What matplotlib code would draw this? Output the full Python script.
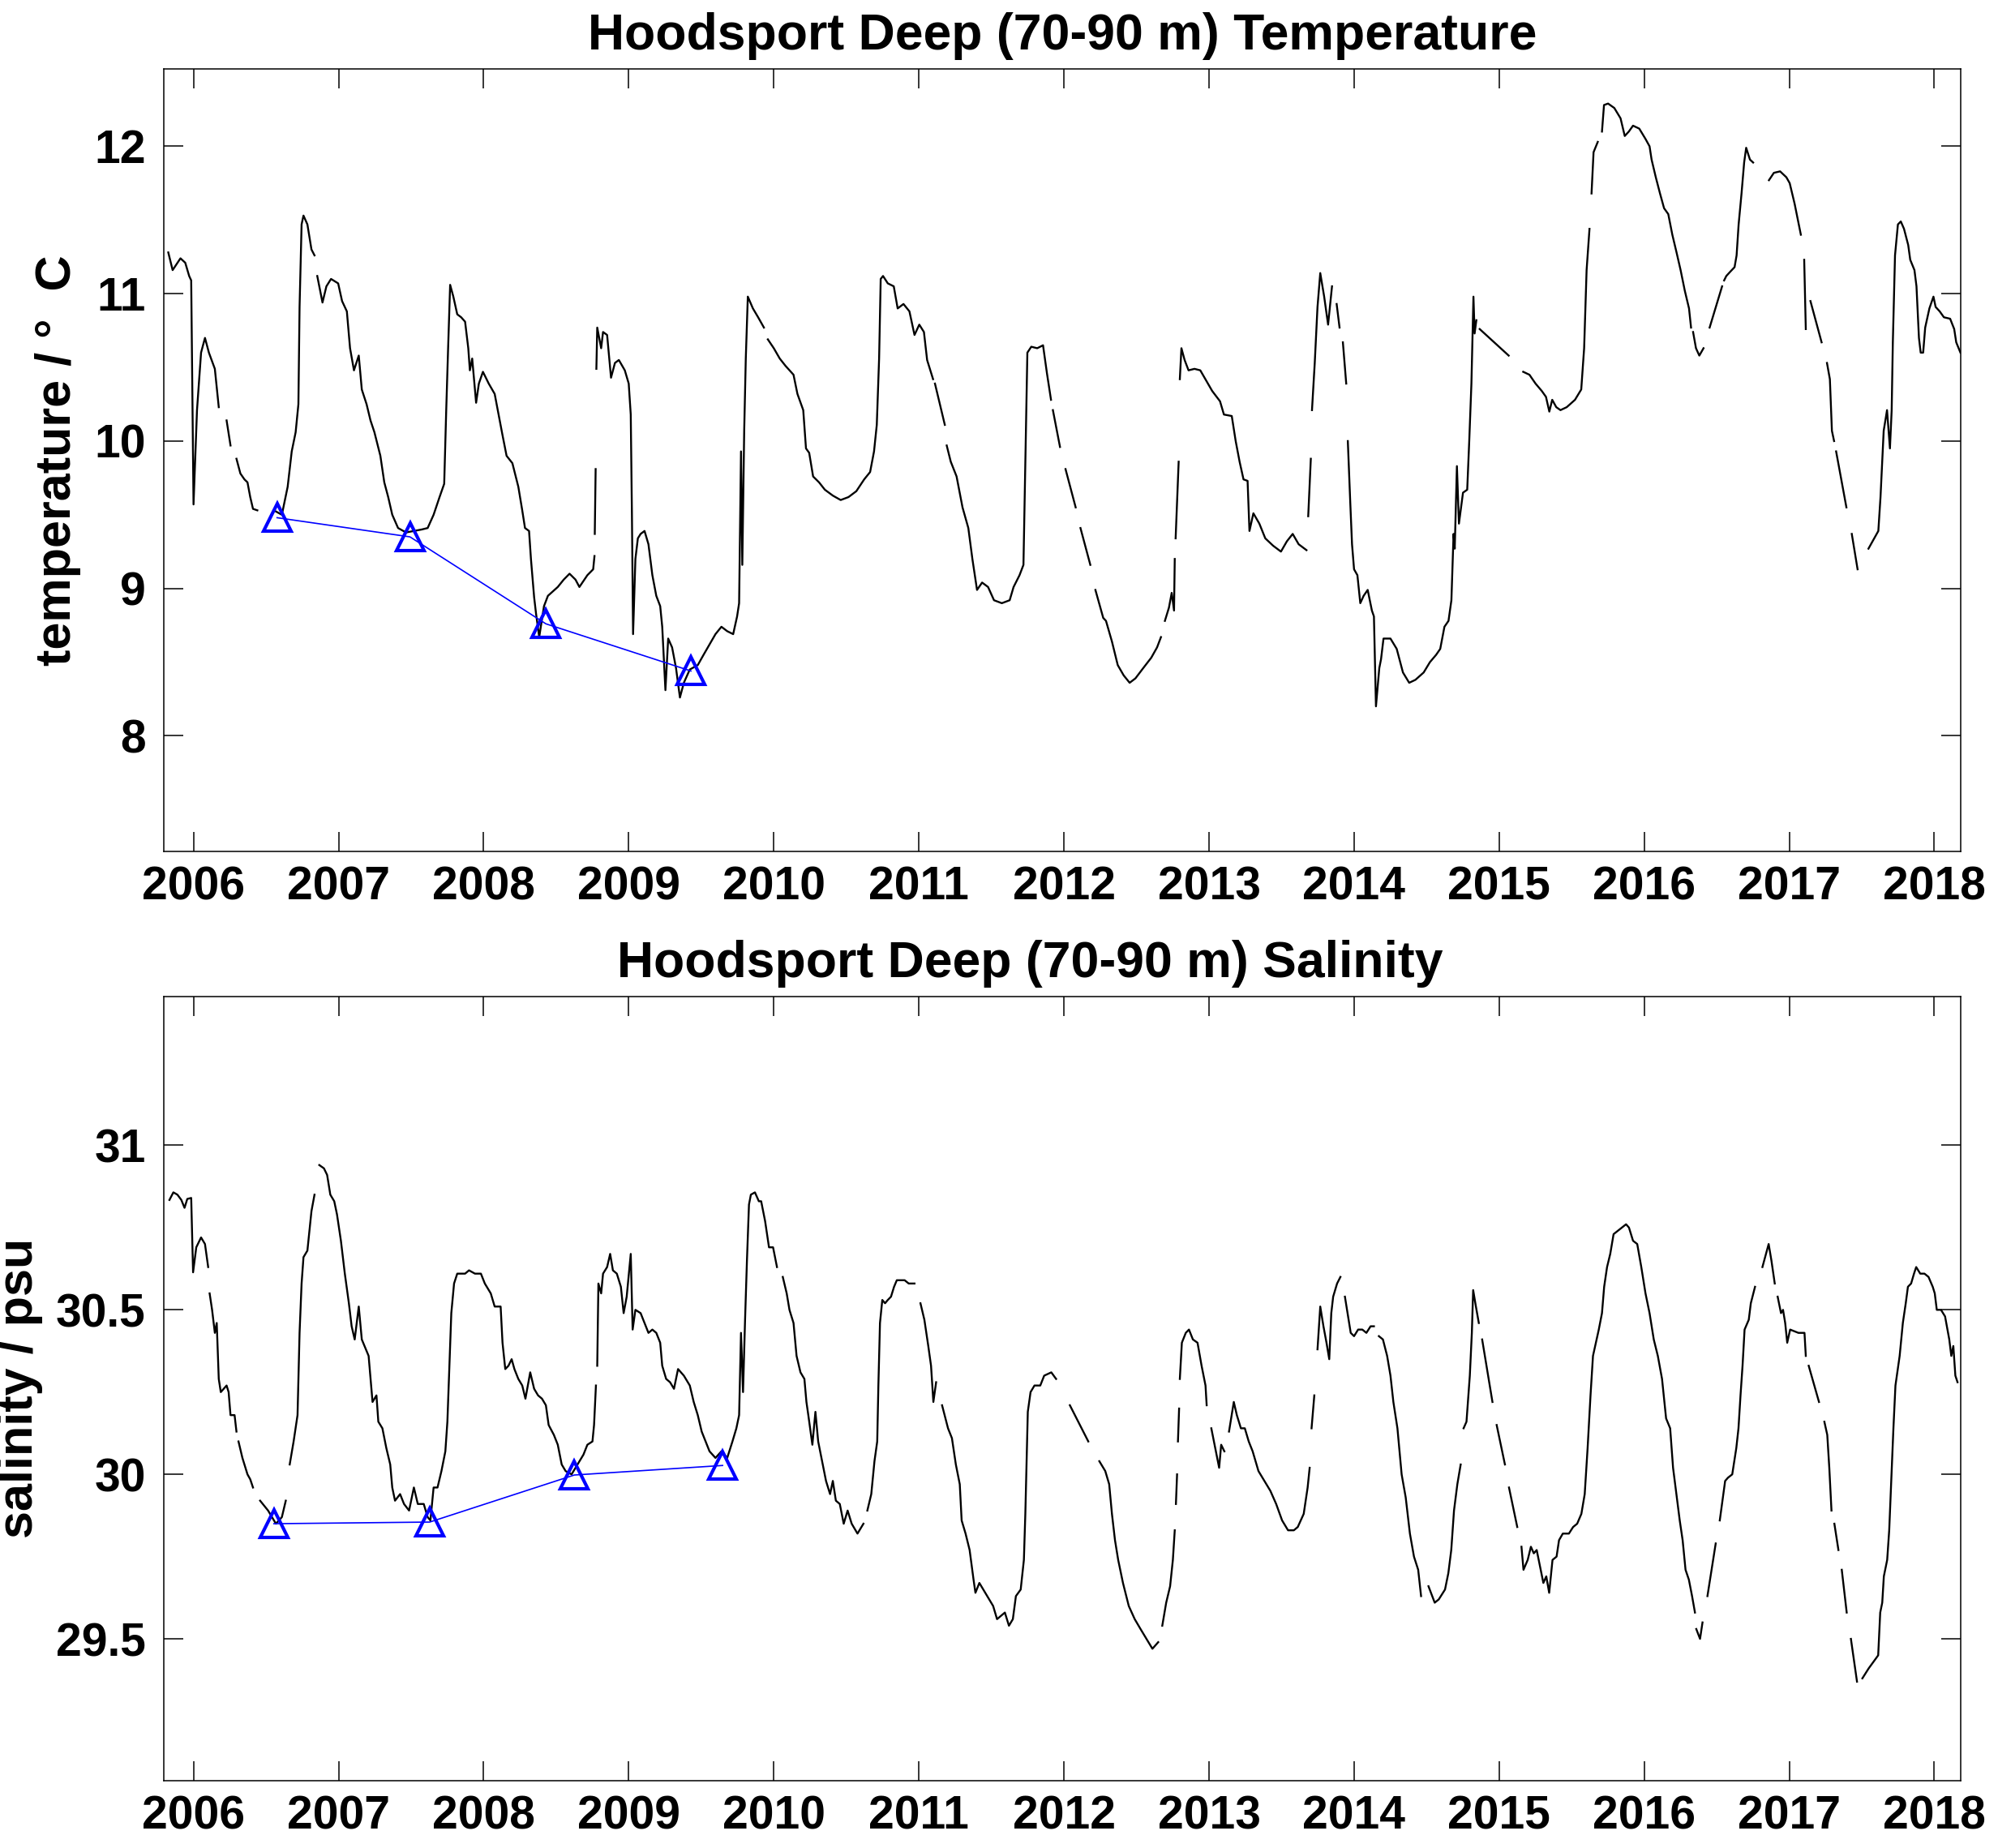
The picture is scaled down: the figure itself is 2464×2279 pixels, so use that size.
import numpy as np
import matplotlib
matplotlib.use('Agg')
import matplotlib.pyplot as plt

GAP = (np.nan, np.nan)

# mooring record, deep layer mean (decimal year, deg C); GAP = missing data
temp_record = [
    (2005.826, 11.28), (2005.856, 11.16), (2005.910, 11.24), (2005.943, 11.21), (2005.970, 11.12), (2005.984, 11.09),
    (2006.000, 9.57), (2006.024, 10.21), (2006.052, 10.60), (2006.079, 10.70), (2006.106, 10.60), (2006.147, 10.49),
    (2006.174, 10.23), GAP,
    (2006.228, 10.14), (2006.255, 9.97), GAP,
    (2006.296, 9.88), (2006.323, 9.78), (2006.351, 9.74), (2006.372, 9.72), (2006.391, 9.62), (2006.410, 9.54),
    (2006.440, 9.53), GAP,
    (2006.554, 9.53), (2006.609, 9.50), (2006.649, 9.69), (2006.677, 9.93), (2006.704, 10.06), (2006.723, 10.25),
    (2006.731, 10.91), (2006.745, 11.47), (2006.758, 11.53), (2006.785, 11.47), (2006.813, 11.30), (2006.834, 11.26), GAP,
    (2006.853, 11.12), (2006.889, 10.94), (2006.916, 11.05), (2006.948, 11.10), (2006.997, 11.07), (2007.024, 10.95),
    (2007.057, 10.88), (2007.079, 10.63), (2007.106, 10.48), (2007.139, 10.58), (2007.160, 10.35), (2007.193, 10.25),
    (2007.220, 10.14), (2007.247, 10.06), (2007.288, 9.90), (2007.315, 9.72), (2007.342, 9.62), (2007.370, 9.50),
    (2007.410, 9.41), (2007.465, 9.38), (2007.519, 9.39), (2007.573, 9.40), (2007.614, 9.41), (2007.655, 9.50),
    (2007.696, 9.62), (2007.728, 9.71), (2007.742, 10.21), (2007.755, 10.63), (2007.769, 11.06), (2007.791, 10.98),
    (2007.818, 10.86), (2007.845, 10.84), (2007.872, 10.81), (2007.894, 10.63), (2007.905, 10.48), (2007.921, 10.56),
    (2007.948, 10.26), (2007.967, 10.39), (2007.995, 10.47), (2008.035, 10.39), (2008.076, 10.32), (2008.103, 10.18),
    (2008.130, 10.04), (2008.158, 9.90), (2008.198, 9.85), (2008.239, 9.69), (2008.266, 9.53), (2008.285, 9.41),
    (2008.313, 9.39), (2008.326, 9.20), (2008.348, 8.94), (2008.361, 8.83), (2008.383, 8.67), (2008.416, 8.88),
    (2008.443, 8.95), (2008.511, 9.01), (2008.552, 9.06), (2008.592, 9.10), (2008.633, 9.06), (2008.660, 9.01),
    (2008.715, 9.09), (2008.755, 9.13), (2008.764, 9.22), GAP,
    (2008.766, 9.37), (2008.772, 9.81), GAP,
    (2008.777, 10.49), (2008.783, 10.77), (2008.810, 10.63), (2008.823, 10.74), (2008.851, 10.72), (2008.878, 10.43),
    (2008.905, 10.53), (2008.932, 10.55), (2008.973, 10.48), (2009.000, 10.39), (2009.014, 10.18), (2009.022, 9.51),
    (2009.030, 8.69), (2009.046, 9.20), (2009.063, 9.34), (2009.082, 9.37), (2009.109, 9.39), (2009.136, 9.30),
    (2009.163, 9.09), (2009.190, 8.95), (2009.217, 8.88), (2009.231, 8.74), (2009.253, 8.31), (2009.272, 8.66),
    (2009.299, 8.60), (2009.326, 8.46), (2009.353, 8.26), (2009.380, 8.36), (2009.421, 8.45), (2009.476, 8.48),
    (2009.516, 8.55), (2009.557, 8.62), (2009.598, 8.69), (2009.639, 8.74), (2009.679, 8.71), (2009.720, 8.69),
    (2009.747, 8.81), (2009.761, 8.90), (2009.774, 9.93), (2009.783, 9.16), (2009.796, 10.07), (2009.807, 10.56),
    (2009.821, 10.98), (2009.856, 10.90), (2009.892, 10.84), (2009.932, 10.77), GAP,
    (2009.959, 10.69), (2010.000, 10.63), (2010.041, 10.56), (2010.081, 10.51), (2010.136, 10.45), (2010.163, 10.32),
    (2010.203, 10.21), (2010.222, 9.95), (2010.244, 9.92), (2010.271, 9.76), (2010.312, 9.72), (2010.352, 9.67),
    (2010.407, 9.63), (2010.461, 9.60), (2010.515, 9.62), (2010.569, 9.66), (2010.623, 9.74), (2010.664, 9.79),
    (2010.691, 9.93), (2010.710, 10.11), (2010.726, 10.56), (2010.737, 11.10), (2010.753, 11.12), (2010.786, 11.07),
    (2010.827, 11.05), (2010.854, 10.90), (2010.894, 10.93), (2010.935, 10.88), (2010.970, 10.72), (2011.003, 10.79),
    (2011.035, 10.74), (2011.057, 10.55), (2011.098, 10.42), GAP,
    (2011.111, 10.39), (2011.179, 10.11), GAP,
    (2011.192, 9.97), (2011.220, 9.86), (2011.260, 9.76), (2011.301, 9.55), (2011.341, 9.41), (2011.369, 9.20),
    (2011.401, 8.99), (2011.436, 9.04), (2011.477, 9.01), (2011.518, 8.92), (2011.572, 8.90), (2011.626, 8.92),
    (2011.653, 9.01), (2011.694, 9.09), (2011.721, 9.16), (2011.734, 9.86), (2011.748, 10.60), (2011.775, 10.64),
    (2011.816, 10.63), (2011.856, 10.65), (2011.883, 10.46), (2011.911, 10.28), GAP,
    (2011.924, 10.21), (2011.973, 9.96), GAP,
    (2012.011, 9.81), (2012.081, 9.55), GAP,
    (2012.114, 9.41), (2012.182, 9.16), GAP,
    (2012.217, 8.99), (2012.271, 8.80), (2012.290, 8.78), (2012.331, 8.64), (2012.371, 8.48), (2012.412, 8.41),
    (2012.453, 8.36), (2012.493, 8.39), (2012.547, 8.46), (2012.602, 8.53), (2012.642, 8.60), (2012.669, 8.67), GAP,
    (2012.696, 8.78), (2012.724, 8.87), (2012.743, 8.97), (2012.759, 8.85), (2012.764, 9.20), GAP,
    (2012.770, 9.34), (2012.791, 9.86), GAP,
    (2012.799, 10.42), (2012.810, 10.63), (2012.832, 10.55), (2012.859, 10.48), (2012.900, 10.49), (2012.940, 10.48),
    (2012.981, 10.41), (2013.022, 10.34), (2013.076, 10.27), (2013.103, 10.18), (2013.157, 10.17), (2013.184, 10.00),
    (2013.211, 9.86), (2013.238, 9.74), (2013.266, 9.73), (2013.279, 9.39), (2013.306, 9.51), (2013.347, 9.44),
    (2013.388, 9.34), (2013.442, 9.29), (2013.496, 9.25), (2013.537, 9.32), (2013.577, 9.37), (2013.618, 9.30),
    (2013.672, 9.26), GAP,
    (2013.684, 9.49), (2013.702, 9.88), GAP,
    (2013.710, 10.21), (2013.729, 10.53), (2013.748, 10.91), (2013.767, 11.14), (2013.794, 10.98), (2013.821, 10.79),
    (2013.848, 11.05), GAP,
    (2013.880, 10.93), (2013.900, 10.77), GAP,
    (2013.923, 10.67), (2013.946, 10.39), GAP,
    (2013.957, 10.00), (2013.974, 9.58), (2013.986, 9.30), (2014.000, 9.13), (2014.023, 9.09), (2014.043, 8.90),
    (2014.066, 8.95), (2014.094, 8.99), (2014.123, 8.85), (2014.137, 8.81), (2014.151, 8.20), (2014.174, 8.46),
    (2014.186, 8.52), (2014.203, 8.66), (2014.251, 8.66), (2014.294, 8.59), (2014.337, 8.43), (2014.380, 8.36),
    (2014.423, 8.38), (2014.480, 8.43), (2014.523, 8.50), (2014.566, 8.55), (2014.594, 8.59), (2014.623, 8.74),
    (2014.651, 8.78), (2014.671, 8.92), (2014.686, 9.37), (2014.694, 9.27), (2014.709, 9.83), (2014.723, 9.44),
    (2014.751, 9.65), (2014.780, 9.67), (2014.794, 10.00), (2014.809, 10.39), (2014.823, 10.98), (2014.831, 10.73),
    (2014.843, 10.82), GAP,
    (2014.866, 10.76), (2015.066, 10.58), GAP,
    (2015.166, 10.47), (2015.209, 10.45), (2015.251, 10.39), (2015.294, 10.34), (2015.323, 10.30), (2015.346, 10.20),
    (2015.366, 10.28), (2015.394, 10.23), (2015.423, 10.21), (2015.466, 10.23), (2015.523, 10.28), (2015.566, 10.35),
    (2015.586, 10.63), (2015.603, 11.16), (2015.623, 11.44), GAP,
    (2015.637, 11.68), (2015.651, 11.96), (2015.680, 12.03), GAP,
    (2015.709, 12.10), (2015.723, 12.28), (2015.751, 12.29), (2015.794, 12.26), (2015.837, 12.19), (2015.866, 12.07),
    (2015.894, 12.10), (2015.923, 12.14), (2015.966, 12.12), (2016.009, 12.05), (2016.037, 12.00), (2016.051, 11.91),
    (2016.080, 11.79), (2016.109, 11.68), (2016.137, 11.58), (2016.166, 11.54), (2016.194, 11.40), (2016.223, 11.28),
    (2016.251, 11.16), (2016.280, 11.02), (2016.309, 10.90), (2016.323, 10.77), GAP,
    (2016.337, 10.74), (2016.357, 10.63), (2016.380, 10.58), (2016.409, 10.63), GAP,
    (2016.451, 10.77), (2016.537, 11.05), GAP,
    (2016.551, 11.09), (2016.566, 11.12), (2016.594, 11.15), (2016.623, 11.18), (2016.637, 11.26), (2016.651, 11.47),
    (2016.671, 11.68), (2016.689, 11.89), (2016.703, 11.99), (2016.729, 11.91), (2016.751, 11.89), GAP,
    (2016.860, 11.77), (2016.894, 11.82), (2016.937, 11.83), (2016.980, 11.79), (2017.003, 11.75), (2017.037, 11.61),
    (2017.080, 11.40), GAP,
    (2017.103, 11.23), (2017.114, 10.76), GAP,
    (2017.146, 10.95), (2017.223, 10.67), GAP,
    (2017.260, 10.53), (2017.280, 10.42), (2017.294, 10.07), (2017.309, 10.00), GAP,
    (2017.323, 9.93), (2017.394, 9.55), GAP,
    (2017.431, 9.37), (2017.471, 9.13), GAP,
    (2017.546, 9.27), (2017.614, 9.39), (2017.629, 9.62), (2017.643, 9.90), (2017.651, 10.07), (2017.674, 10.21),
    (2017.694, 9.95), (2017.706, 10.21), (2017.714, 10.67), (2017.729, 11.26), (2017.749, 11.47), (2017.769, 11.49),
    (2017.791, 11.44), (2017.820, 11.33), (2017.834, 11.23), (2017.863, 11.16), (2017.877, 11.05), (2017.894, 10.70),
    (2017.906, 10.60), (2017.923, 10.60), (2017.937, 10.77), (2017.966, 10.90), (2017.994, 10.98), (2018.009, 10.91),
    (2018.037, 10.88), (2018.066, 10.84), (2018.109, 10.83), (2018.137, 10.76), (2018.151, 10.67), (2018.180, 10.60),
]

# salinity (decimal year, psu)
sal_record = [
    (2005.834, 30.834), (2005.861, 30.857), (2005.889, 30.850), (2005.916, 30.834), (2005.938, 30.810),
    (2005.957, 30.837), (2005.984, 30.840), (2005.997, 30.614), (2006.019, 30.69), (2006.052, 30.72),
    (2006.079, 30.70), (2006.101, 30.63), GAP,
    (2006.111, 30.55), (2006.128, 30.50), (2006.147, 30.43), (2006.160, 30.46), (2006.174, 30.29), (2006.188, 30.25),
    (2006.228, 30.27), (2006.242, 30.25), (2006.255, 30.18), (2006.283, 30.18), (2006.296, 30.13), GAP,
    (2006.310, 30.10), (2006.337, 30.05), (2006.372, 30.00), (2006.391, 29.985), (2006.410, 29.96), GAP,
    (2006.459, 29.92), (2006.514, 29.89), (2006.568, 29.85), (2006.609, 29.87), (2006.636, 29.92), GAP,
    (2006.663, 30.03), (2006.690, 30.10), (2006.717, 30.18), (2006.731, 30.43), (2006.745, 30.58), (2006.758, 30.66),
    (2006.785, 30.68), (2006.813, 30.80), (2006.834, 30.85), GAP,
    (2006.867, 30.94), (2006.899, 30.93), (2006.921, 30.91), (2006.943, 30.85), (2006.970, 30.83), (2006.989, 30.79),
    (2007.016, 30.71), (2007.043, 30.61), (2007.071, 30.52), (2007.090, 30.45), (2007.111, 30.41), (2007.139, 30.51),
    (2007.160, 30.41), (2007.179, 30.39), (2007.207, 30.36), (2007.234, 30.22), (2007.261, 30.24), (2007.274, 30.16),
    (2007.302, 30.14), (2007.329, 30.08), (2007.356, 30.03), (2007.370, 29.96), (2007.389, 29.92), (2007.424, 29.94),
    (2007.451, 29.91), (2007.486, 29.89), (2007.519, 29.96), (2007.546, 29.91), (2007.587, 29.91), (2007.614, 29.87),
    (2007.633, 29.86), (2007.655, 29.96), (2007.682, 29.96), (2007.709, 30.01), (2007.736, 30.07), (2007.750, 30.16),
    (2007.764, 30.33), (2007.777, 30.49), (2007.796, 30.58), (2007.818, 30.61), (2007.845, 30.61), (2007.872, 30.61),
    (2007.899, 30.62), (2007.940, 30.61), (2007.981, 30.61), (2008.008, 30.58), (2008.049, 30.55), (2008.076, 30.51),
    (2008.098, 30.51), (2008.117, 30.51), (2008.130, 30.40), (2008.149, 30.32), (2008.171, 30.33), (2008.193, 30.35),
    (2008.212, 30.32), (2008.239, 30.29), (2008.266, 30.27), (2008.288, 30.23), (2008.321, 30.31), (2008.348, 30.26),
    (2008.375, 30.24), (2008.402, 30.23), (2008.429, 30.21), (2008.448, 30.15), (2008.484, 30.12), (2008.511, 30.09),
    (2008.538, 30.03), (2008.565, 30.01), (2008.606, 30.00), (2008.647, 30.03), (2008.688, 30.06), (2008.715, 30.09),
    (2008.750, 30.10), (2008.761, 30.15), (2008.774, 30.27), GAP,
    (2008.783, 30.33), (2008.791, 30.58), (2008.810, 30.55), (2008.823, 30.61), (2008.851, 30.63), (2008.872, 30.67),
    (2008.891, 30.62), (2008.918, 30.61), (2008.946, 30.57), (2008.965, 30.49), (2008.986, 30.54), (2009.014, 30.67),
    (2009.027, 30.44), (2009.046, 30.50), (2009.082, 30.49), (2009.109, 30.46), (2009.136, 30.43), (2009.163, 30.44),
    (2009.190, 30.43), (2009.217, 30.40), (2009.231, 30.33), (2009.258, 30.29), (2009.285, 30.28), (2009.312, 30.26),
    (2009.340, 30.32), (2009.380, 30.30), (2009.421, 30.27), (2009.448, 30.22), (2009.476, 30.18), (2009.503, 30.13),
    (2009.530, 30.10), (2009.557, 30.07), (2009.598, 30.05), (2009.639, 30.07), (2009.679, 30.05), (2009.715, 30.10),
    (2009.742, 30.14), (2009.761, 30.18), (2009.774, 30.43), (2009.788, 30.25), (2009.802, 30.47), (2009.815, 30.65),
    (2009.829, 30.82), (2009.842, 30.85), (2009.870, 30.857), (2009.897, 30.83), (2009.913, 30.83), (2009.940, 30.77),
    (2009.967, 30.69), (2009.995, 30.69), (2010.022, 30.63), GAP,
    (2010.062, 30.60), (2010.089, 30.55), (2010.108, 30.50), (2010.136, 30.46), (2010.157, 30.36), (2010.184, 30.31),
    (2010.211, 30.29), (2010.225, 30.22), (2010.238, 30.18), (2010.266, 30.09), (2010.287, 30.19), (2010.306, 30.10),
    (2010.333, 30.04), (2010.360, 29.98), (2010.388, 29.94), (2010.407, 29.98), (2010.428, 29.92), (2010.455, 29.91),
    (2010.482, 29.85), (2010.509, 29.89), (2010.537, 29.85), (2010.577, 29.82), (2010.618, 29.85), GAP,
    (2010.645, 29.89), (2010.672, 29.94), (2010.694, 30.04), (2010.713, 30.10), (2010.721, 30.27), (2010.732, 30.46),
    (2010.748, 30.53), (2010.767, 30.52), (2010.786, 30.53), (2010.808, 30.54), (2010.829, 30.57), (2010.848, 30.59),
    (2010.875, 30.59), (2010.902, 30.59), (2010.930, 30.58), (2010.970, 30.58), GAP,
    (2011.011, 30.52), (2011.038, 30.47), (2011.065, 30.39), (2011.084, 30.33), (2011.100, 30.22), (2011.119, 30.28), GAP,
    (2011.160, 30.21), (2011.201, 30.14), (2011.228, 30.11), (2011.255, 30.03), (2011.282, 29.97), (2011.295, 29.86),
    (2011.322, 29.82), (2011.350, 29.77), (2011.377, 29.68), (2011.390, 29.64), (2011.417, 29.67), (2011.458, 29.64),
    (2011.485, 29.62), (2011.512, 29.60), (2011.539, 29.56), (2011.566, 29.57), (2011.593, 29.58), (2011.621, 29.54),
    (2011.648, 29.56), (2011.669, 29.63), (2011.702, 29.65), (2011.724, 29.74), (2011.734, 29.88), (2011.751, 30.19),
    (2011.770, 30.25), (2011.797, 30.27), (2011.837, 30.27), (2011.864, 30.30), (2011.913, 30.31), (2011.946, 30.29), GAP,
    (2012.041, 30.21), (2012.168, 30.10), GAP,
    (2012.244, 30.04), (2012.285, 30.01), (2012.312, 29.97), (2012.331, 29.88), (2012.352, 29.80), (2012.374, 29.74),
    (2012.407, 29.67), (2012.447, 29.60), (2012.488, 29.56), (2012.528, 29.53), (2012.569, 29.50), (2012.610, 29.47),
    (2012.650, 29.49), GAP,
    (2012.678, 29.54), (2012.705, 29.61), (2012.732, 29.66), (2012.751, 29.74), (2012.764, 29.83), GAP,
    (2012.772, 29.91), (2012.780, 30.00), GAP,
    (2012.786, 30.10), (2012.794, 30.20), GAP,
    (2012.799, 30.29), (2012.813, 30.40), (2012.840, 30.43), (2012.862, 30.44), (2012.889, 30.41), (2012.921, 30.40),
    (2012.949, 30.33), (2012.976, 30.27), (2012.984, 30.21), GAP,
    (2013.016, 30.14), (2013.043, 30.08), (2013.070, 30.02), (2013.084, 30.09), (2013.106, 30.07), GAP,
    (2013.138, 30.13), (2013.171, 30.22), (2013.192, 30.18), (2013.220, 30.14), (2013.247, 30.14), (2013.274, 30.10),
    (2013.301, 30.07), (2013.341, 30.01), (2013.382, 29.98), (2013.423, 29.95), (2013.463, 29.91), (2013.504, 29.86),
    (2013.545, 29.83), (2013.585, 29.83), (2013.612, 29.84), (2013.653, 29.88), (2013.680, 29.96), (2013.694, 30.02), GAP,
    (2013.707, 30.14), (2013.726, 30.24), GAP,
    (2013.748, 30.38), (2013.767, 30.51), (2013.789, 30.45), (2013.810, 30.40), (2013.829, 30.35), (2013.843, 30.49),
    (2013.856, 30.54), (2013.883, 30.58), (2013.906, 30.60), GAP,
    (2013.937, 30.54), (2013.977, 30.43), (2014.000, 30.42), (2014.028, 30.44), (2014.057, 30.44), (2014.085, 30.43),
    (2014.114, 30.45), (2014.137, 30.45), GAP,
    (2014.171, 30.42), (2014.199, 30.41), (2014.228, 30.36), (2014.251, 30.30), (2014.271, 30.22), (2014.299, 30.14),
    (2014.328, 30.00), (2014.356, 29.93), (2014.385, 29.82), (2014.413, 29.75), (2014.442, 29.71), (2014.462, 29.63), GAP,
    (2014.513, 29.66), (2014.556, 29.61), (2014.584, 29.62), (2014.627, 29.65), (2014.650, 29.70), (2014.670, 29.77),
    (2014.689, 29.89), (2014.712, 29.97), (2014.735, 30.03), GAP,
    (2014.755, 30.14), (2014.775, 30.16), (2014.798, 30.30), (2014.812, 30.43), (2014.821, 30.56), (2014.840, 30.51),
    (2014.860, 30.46), GAP,
    (2014.883, 30.41), (2014.954, 30.22), GAP,
    (2014.983, 30.15), (2015.040, 30.03), GAP,
    (2015.068, 29.96), (2015.125, 29.84), GAP,
    (2015.154, 29.78), (2015.168, 29.71), (2015.197, 29.74), (2015.219, 29.78), (2015.239, 29.76), (2015.259, 29.77),
    (2015.282, 29.72), (2015.305, 29.67), (2015.325, 29.69), (2015.345, 29.64), (2015.368, 29.74), (2015.396, 29.75),
    (2015.413, 29.80), (2015.439, 29.82), (2015.481, 29.82), (2015.510, 29.84), (2015.538, 29.85), (2015.567, 29.88),
    (2015.590, 29.94), (2015.610, 30.08), (2015.630, 30.24), (2015.647, 30.36), (2015.667, 30.40), (2015.687, 30.44),
    (2015.709, 30.49), (2015.724, 30.57), (2015.744, 30.63), (2015.766, 30.67), (2015.789, 30.73), (2015.818, 30.74),
    (2015.846, 30.75), (2015.875, 30.76), (2015.895, 30.75), (2015.923, 30.71), (2015.952, 30.70), (2015.980, 30.63),
    (2016.009, 30.55), (2016.037, 30.49), (2016.066, 30.41), (2016.094, 30.36), (2016.123, 30.29), (2016.151, 30.17),
    (2016.179, 30.14), (2016.199, 30.02), (2016.222, 29.94), (2016.245, 29.86), (2016.265, 29.80), (2016.285, 29.71),
    (2016.308, 29.68), (2016.330, 29.63), (2016.350, 29.58), GAP,
    (2016.359, 29.53), (2016.385, 29.50), (2016.402, 29.55), GAP,
    (2016.436, 29.63), (2016.493, 29.79), GAP,
    (2016.521, 29.86), (2016.558, 29.98), (2016.578, 29.99), (2016.607, 30.00), (2016.635, 30.08), (2016.650, 30.14),
    (2016.664, 30.24), (2016.678, 30.33), (2016.692, 30.44), (2016.721, 30.47), (2016.735, 30.52), (2016.764, 30.57), GAP,
    (2016.815, 30.63), (2016.858, 30.70), (2016.877, 30.65), (2016.900, 30.58), GAP,
    (2016.920, 30.54), (2016.943, 30.49), (2016.957, 30.50), (2016.972, 30.46), (2016.986, 30.40), (2017.006, 30.44),
    (2017.063, 30.43), (2017.105, 30.43), (2017.114, 30.36), GAP,
    (2017.134, 30.33), (2017.205, 30.22), GAP,
    (2017.242, 30.16), (2017.262, 30.12), (2017.276, 30.02), (2017.291, 29.89), GAP,
    (2017.311, 29.85), (2017.339, 29.77), GAP,
    (2017.362, 29.71), (2017.396, 29.58), GAP,
    (2017.425, 29.50), (2017.467, 29.37), GAP,
    (2017.504, 29.38), (2017.547, 29.41), (2017.613, 29.45), (2017.627, 29.58), (2017.641, 29.61), (2017.652, 29.69),
    (2017.675, 29.74), (2017.689, 29.83), (2017.704, 29.99), (2017.718, 30.14), (2017.732, 30.27), (2017.761, 30.36),
    (2017.783, 30.46), (2017.803, 30.52), (2017.818, 30.57), (2017.840, 30.58), (2017.860, 30.61), (2017.875, 30.63),
    (2017.903, 30.61), (2017.932, 30.61), (2017.960, 30.60), (2017.989, 30.57), (2018.003, 30.55), (2018.017, 30.50),
    (2018.046, 30.50), (2018.074, 30.48), (2018.103, 30.41), (2018.117, 30.36), (2018.131, 30.39), (2018.145, 30.30),
    (2018.160, 30.28),
]

# CTD cast values (blue triangles)
cast_temp_year = [2006.576, 2007.492, 2008.429, 2009.429]
cast_temp = [9.48, 9.35, 8.76, 8.44]
cast_sal_year = [2006.554, 2007.628, 2008.625, 2009.647]
cast_sal = [29.85, 29.855, 29.998, 30.027]

years = list(range(2006, 2019))
temp_ticks = [8, 9, 10, 11, 12]
sal_ticks = [29.5, 30, 30.5, 31]
sal_ticklabels = ['29.5', '30', '30.5', '31']

plt.rcParams['font.family'] = ['Liberation Sans', 'DejaVu Sans']
plt.rcParams['font.weight'] = 'bold'

fig = plt.figure(figsize=(24.64, 22.79), dpi=100)
ax1 = fig.add_axes([0.0819, 0.5393, 0.8993, 0.4234])
ax2 = fig.add_axes([0.0819, 0.0366, 0.8993, 0.4243])

t = np.array(temp_record).T
s = np.array(sal_record).T

ax1.plot(t[0], t[1], color='k', lw=1.7)
ax1.plot(cast_temp_year, cast_temp, color=(0, 0, 1), lw=1.2, marker='^',
         ms=25, mfc='none', mec=(0, 0, 1), mew=3)
ax2.plot(s[0], s[1], color='k', lw=1.7)
ax2.plot(cast_sal_year, cast_sal, color=(0, 0, 1), lw=1.2, marker='^',
         ms=25, mfc='none', mec=(0, 0, 1), mew=3)

ax1.set_ylim(7.216, 12.525)
ax1.set_yticks(temp_ticks)
ax2.set_ylim(29.07, 31.453)
ax2.set_yticks(sal_ticks)
ax2.set_yticklabels(sal_ticklabels)

for ax in (ax1, ax2):
    ax.set_xlim(2005.794, 2018.18)
    ax.set_xticks(years)
    ax.set_xticklabels([str(y) for y in years])
    ax.tick_params(direction='in', length=17, width=1.1, top=True, right=True,
                   labelsize=41)
    ax.tick_params(axis='x', pad=13)
    ax.tick_params(axis='y', pad=16)
    for sp in ax.spines.values():
        sp.set_linewidth(1.1)

ax1.set_title('Hoodsport Deep (70-90 m) Temperature', fontsize=45, fontweight='bold', pad=17)
ax2.set_title('Hoodsport Deep (70-90 m) Salinity', fontsize=45, fontweight='bold', pad=17, x=0.482)
ax1.set_ylabel('temperature / °  C', fontsize=44, fontweight='bold')
ax2.set_ylabel('salinity / psu', fontsize=44, fontweight='bold')
ax1.yaxis.set_label_coords(-0.046, 0.5)
ax2.yaxis.set_label_coords(-0.067, 0.5)

fig.savefig('out.png', dpi=100)
